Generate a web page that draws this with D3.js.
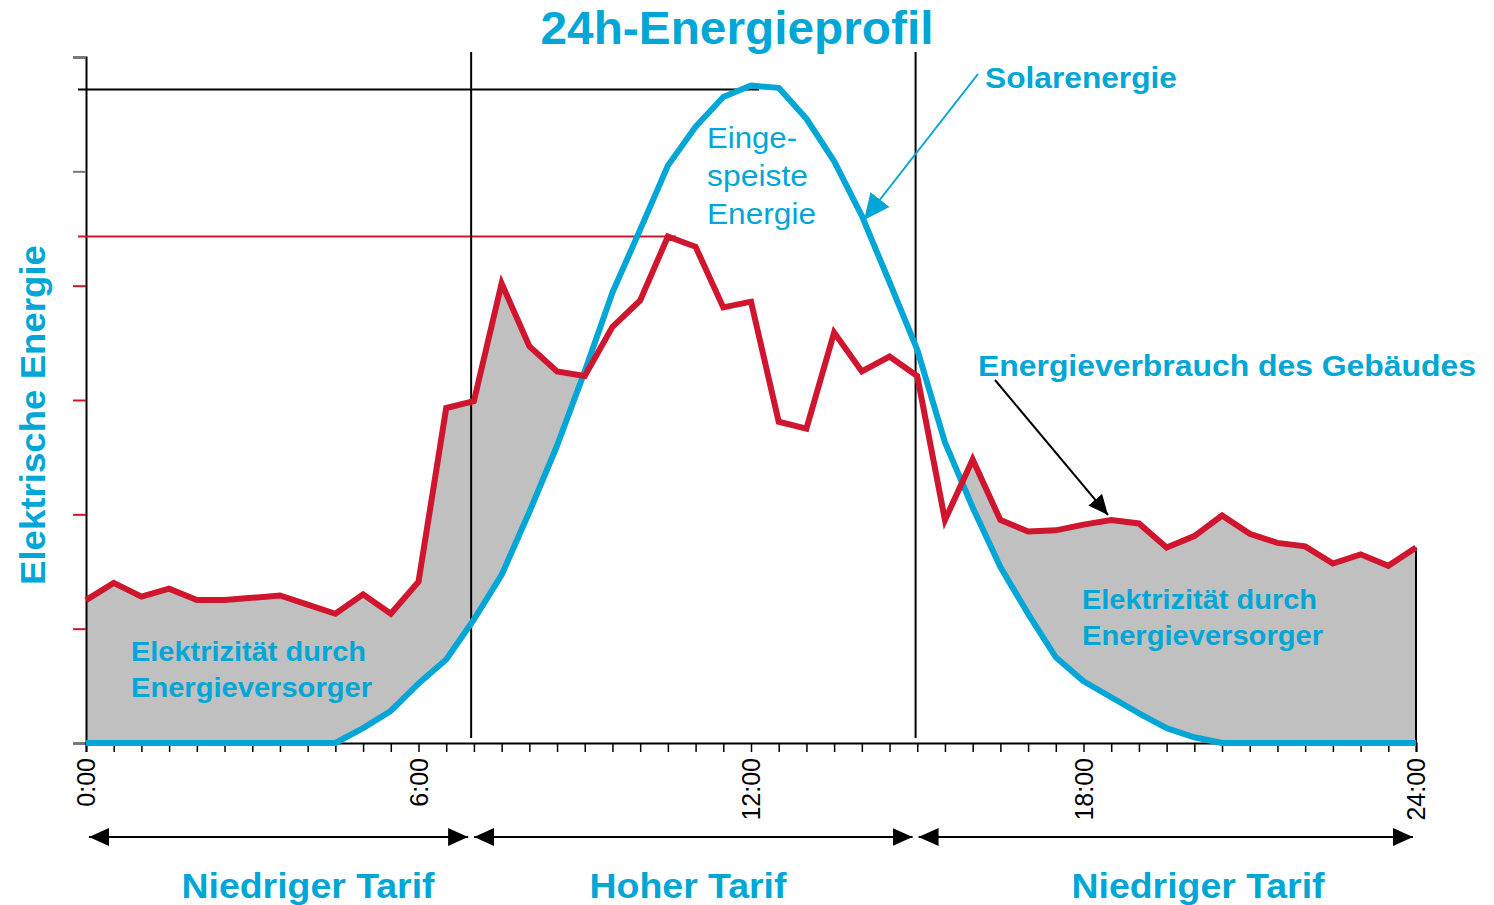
<!DOCTYPE html>
<html>
<head>
<meta charset="utf-8">
<script src="https://cdn.jsdelivr.net/npm/d3@7"></script>
<style>
  body { margin: 0; background: #fff; }
  svg text { font-family: "Liberation Sans", Arial, sans-serif; }
</style>
</head>
<body>
<div id="chart"></div>
<script>
// half-hour steps, 0:00 .. 24:00
const hours = d3.range(0, 24.01, 0.5);

// building consumption (red)
const verbrauch = [1.25, 1.40, 1.28, 1.35, 1.25, 1.25, 1.27, 1.29, 1.21, 1.13,
  1.30, 1.13, 1.41, 2.93, 2.99, 4.02, 3.47, 3.25, 3.21, 3.64,
  3.87, 4.43, 4.34, 3.81, 3.86, 2.81, 2.75, 3.59, 3.25, 3.38,
  3.21, 1.95, 2.48, 1.95, 1.85, 1.86, 1.91, 1.95, 1.92, 1.71,
  1.81, 1.99, 1.83, 1.75, 1.72, 1.57, 1.65, 1.55, 1.71];

// solar energy (blue)
const solar = [0, 0, 0, 0, 0, 0, 0, 0, 0, 0,
  0.13, 0.28, 0.52, 0.73, 1.08, 1.47, 2.02, 2.60, 3.25, 3.94,
  4.49, 5.05, 5.39, 5.65, 5.75, 5.73, 5.46, 5.09, 4.61, 4.03,
  3.44, 2.63, 2.06, 1.54, 1.13, 0.75, 0.54, 0.40, 0.26, 0.13,
  0.05, 0, 0, 0, 0, 0, 0, 0, 0];

const xLabels = [0, 6, 12, 18, 24];
const tarifGrenzen = [0, 6.95, 14.97, 24];
const tarifNamen = ["Niedriger Tarif", "Hoher Tarif", "Niedriger Tarif"];
const yTicks = [0, 1, 2, 3, 4, 5, 6];

const width = 1494, height = 905;
const margin = {top: 57, right: 78, bottom: 162, left: 86};
const blue = "#00a6d6", red = "#d0152f", grey = "#c0c0c0";

const data = hours.map((h, i) => ({h: h, v: verbrauch[i], s: solar[i]}));

const svg = d3.select("#chart")
  .append("svg")
  .attr("width", width)
  .attr("height", height);

const xScale = d3.scaleLinear()
  .domain([0, 24])
  .range([margin.left, width - margin.right]);

const yScale = d3.scaleLinear()
  .domain([0, 6])
  .range([height - margin.bottom, margin.top]);

// grey area under consumption, then white area under solar on top of it
svg.append("path")
  .datum(data)
  .attr("fill", grey)
  .attr("d", d3.area().x(d => xScale(d.h)).y0(yScale(0)).y1(d => yScale(d.v)));

svg.append("path")
  .datum(data)
  .attr("fill", "#fff")
  .attr("d", d3.area().x(d => xScale(d.h)).y0(yScale(0)).y1(d => yScale(d.s)));

// right edge of the grey area
svg.append("line")
  .attr("x1", xScale(24)).attr("x2", xScale(24))
  .attr("y1", yScale(verbrauch[verbrauch.length - 1])).attr("y2", yScale(0))
  .attr("stroke", "#000").attr("stroke-width", 2);

// y axis
const yAxis = svg.append("g")
  .attr("transform", `translate(${margin.left},0)`)
  .call(d3.axisLeft(yScale).tickValues(yTicks).tickSize(13).tickFormat(""));
yAxis.select(".domain").attr("stroke", "#000").attr("stroke-width", 2);
yAxis.selectAll(".tick line")
  .attr("stroke", d => (d === 0 || d === 5 || d === 6) ? "#777" : red)
  .attr("stroke-width", 2);

// x axis with half-hour ticks
const xAxis = svg.append("g")
  .attr("transform", `translate(0,${yScale(0)})`)
  .call(d3.axisBottom(xScale).tickValues(hours).tickSize(9).tickFormat(""));
xAxis.select(".domain").attr("stroke", "#000").attr("stroke-width", 2);
xAxis.selectAll(".tick line").attr("stroke", "#000").attr("stroke-width", 1.5);

svg.selectAll(".xlab")
  .data(xLabels)
  .enter()
  .append("text")
  .attr("class", "xlab")
  .attr("transform", d => `translate(${xScale(d) + 9},${yScale(0) + 15}) rotate(-90)`)
  .attr("text-anchor", "end")
  .attr("font-size", "25px")
  .text(d => d + ":00");

// reference lines for the maxima
const maxS = d3.max(solar), maxV = d3.max(verbrauch);
svg.append("line")
  .attr("x1", 78).attr("x2", xScale(hours[solar.indexOf(maxS)]) + 8)
  .attr("y1", yScale(maxS) + 4).attr("y2", yScale(maxS) + 4)
  .attr("stroke", "#000").attr("stroke-width", 2);
svg.append("line")
  .attr("x1", 78).attr("x2", xScale(hours[verbrauch.indexOf(maxV)]) + 8)
  .attr("y1", yScale(maxV)).attr("y2", yScale(maxV))
  .attr("stroke", red).attr("stroke-width", 2);

// tariff borders
svg.selectAll(".grenze")
  .data(tarifGrenzen.slice(1, 3))
  .enter()
  .append("line")
  .attr("x1", d => xScale(d)).attr("x2", d => xScale(d))
  .attr("y1", 52).attr("y2", yScale(0) - 5)
  .attr("stroke", "#000").attr("stroke-width", 2);

// the two series
svg.append("path")
  .datum(data)
  .attr("fill", "none")
  .attr("stroke", blue)
  .attr("stroke-width", 6)
  .attr("stroke-linejoin", "round")
  .attr("d", d3.line().x(d => xScale(d.h)).y(d => yScale(d.s)));
svg.append("path")
  .datum(data)
  .attr("fill", "none")
  .attr("stroke", red)
  .attr("stroke-width", 6)
  .attr("d", d3.line().x(d => xScale(d.h)).y(d => yScale(d.v)));

// arrow markers
const defs = svg.append("defs");
function marker(id, color, w, h) {
  defs.append("marker")
    .attr("id", id)
    .attr("viewBox", `0 0 ${w} ${h}`)
    .attr("refX", w).attr("refY", h / 2)
    .attr("markerWidth", w).attr("markerHeight", h)
    .attr("markerUnits", "userSpaceOnUse")
    .attr("orient", "auto-start-reverse")
    .append("path")
    .attr("d", `M0,0L${w},${h / 2}L0,${h}Z`)
    .attr("fill", color);
}
marker("arrBlack", "#000", 20, 18);
marker("arrBlue", blue, 26, 24);

// tariff arrows
const tarife = tarifNamen.map((n, i) => ({name: n, a: tarifGrenzen[i], b: tarifGrenzen[i + 1]}));
svg.selectAll(".tarifpfeil")
  .data(tarife)
  .enter()
  .append("line")
  .attr("x1", d => xScale(d.a) + 3).attr("x2", d => xScale(d.b) - 3)
  .attr("y1", 837).attr("y2", 837)
  .attr("stroke", "#000").attr("stroke-width", 2)
  .attr("marker-start", "url(#arrBlack)")
  .attr("marker-end", "url(#arrBlack)");

// helper: text stretched to the width measured in the reference
function label(x, y, txt, size, bold, len, anchor) {
  return svg.append("text")
    .attr("x", x).attr("y", y)
    .attr("text-anchor", anchor || "start")
    .attr("font-size", size + "px")
    .attr("font-weight", bold ? "bold" : "normal")
    .attr("fill", blue)
    .attr("textLength", len)
    .attr("lengthAdjust", "spacingAndGlyphs")
    .text(txt);
}

const tarifX = [308, 688, 1198];
const tarifW = [253, 197, 253];
tarife.forEach((d, i) => label(tarifX[i], 898, d.name, 35, true, tarifW[i], "middle"));

// title and axis label
label(737, 44, "24h-Energieprofil", 47, true, 393, "middle");
label(0, 0, "Elektrische Energie", 35, true, 340, "middle")
  .attr("transform", "translate(45,415) rotate(-90)");

// annotations
label(985, 88, "Solarenergie", 29, true, 192);
svg.append("line")
  .attr("x1", 978).attr("y1", 74).attr("x2", 864).attr("y2", 220)
  .attr("stroke", blue).attr("stroke-width", 2)
  .attr("marker-end", "url(#arrBlue)");

label(978, 376, "Energieverbrauch des Gebäudes", 29, true, 498);
svg.append("line")
  .attr("x1", 995).attr("y1", 380).attr("x2", 1108).attr("y2", 515)
  .attr("stroke", "#000").attr("stroke-width", 2)
  .attr("marker-end", "url(#arrBlack)");

label(707, 148, "Einge-", 30, false, 90);
label(707, 186, "speiste", 30, false, 101);
label(707, 224, "Energie", 30, false, 109);

[[131, 661], [1082, 609]].forEach(p => {
  label(p[0], p[1], "Elektrizität durch", 28, true, 235);
  label(p[0], p[1] + 36, "Energieversorger", 28, true, 241);
});
</script>
</body>
</html>
